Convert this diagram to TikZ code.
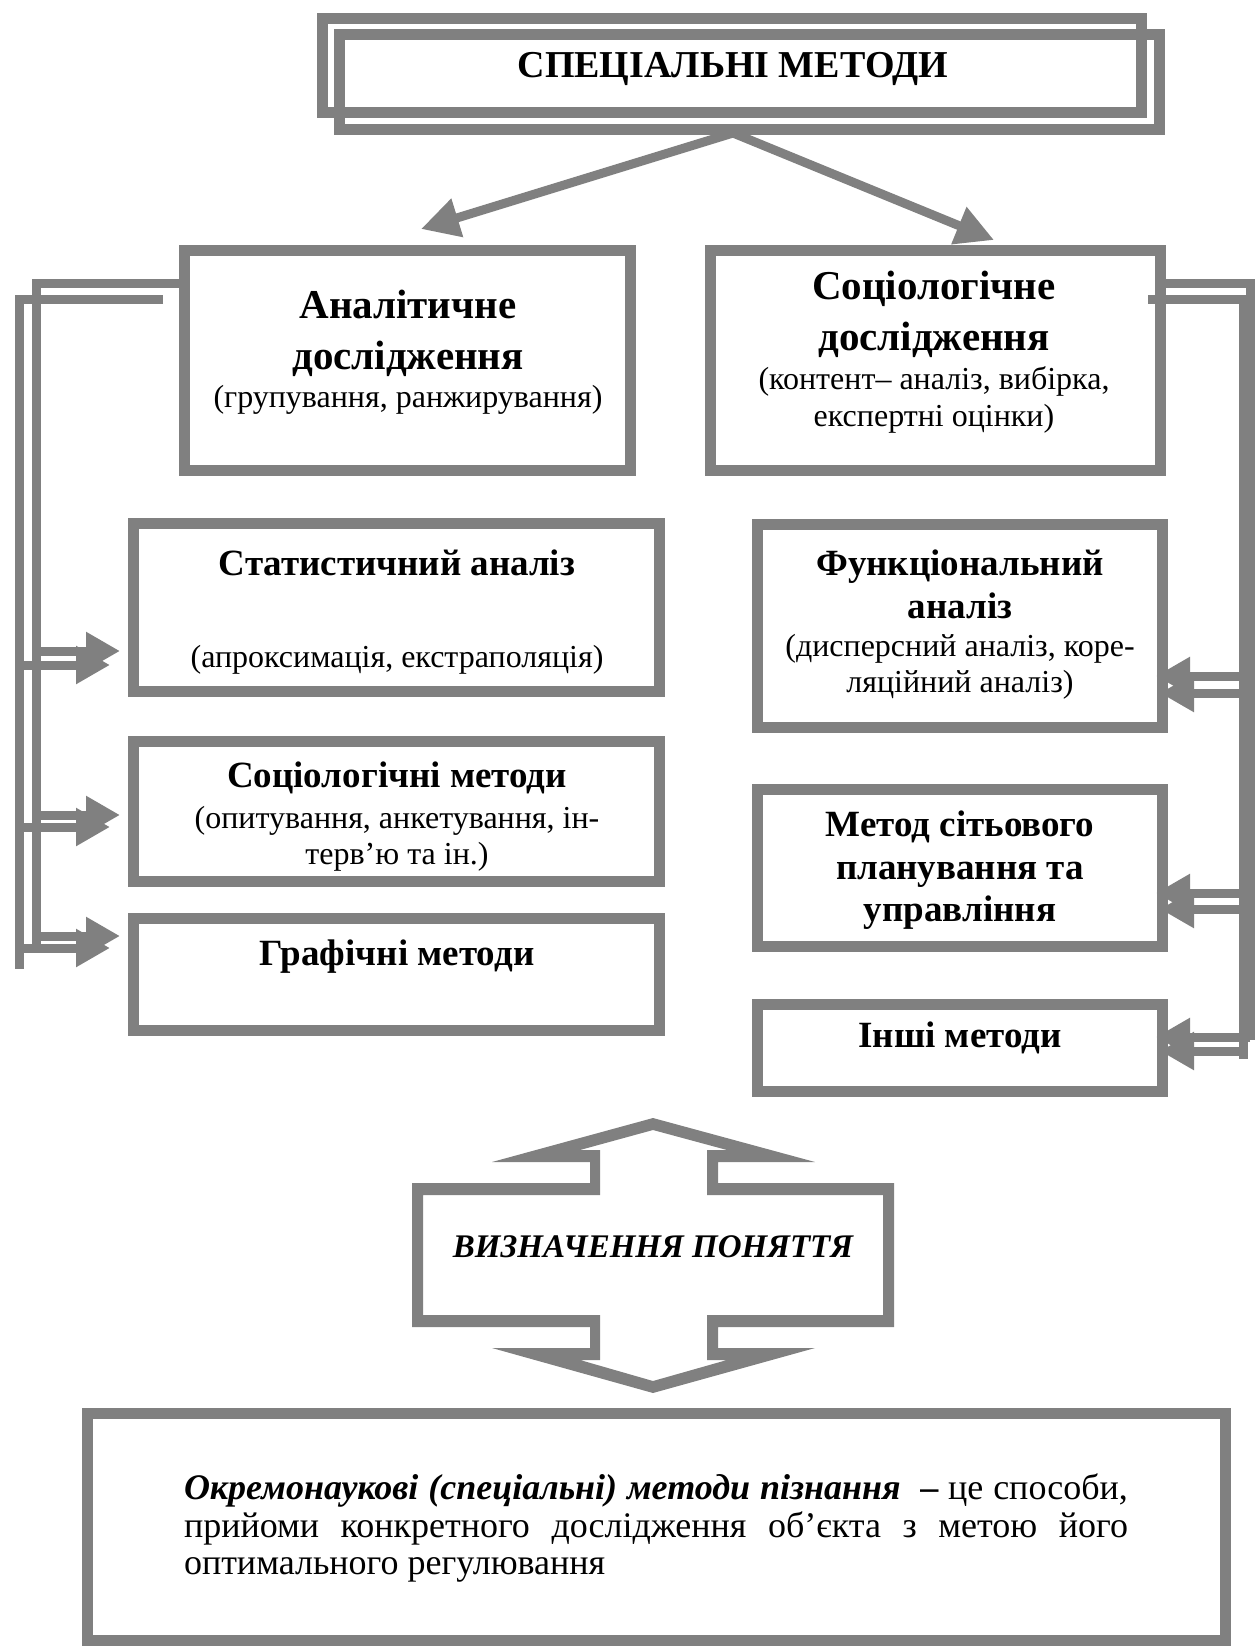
\documentclass[tikz,border=0pt]{standalone}
\usepackage{fontspec}
\setmainfont{Liberation Serif}
\usetikzlibrary{arrows.meta,calc}

\begin{document}
\begin{tikzpicture}[x=1pt,y=-1pt,
  frame/.style={draw=gray, line width=11pt, inner sep=0pt, rectangle},
  link/.style={draw=gray, line width=9pt},
  tip/.style={-{Triangle[length=34pt,width=36pt]}},
  bigtip/.style={-{Triangle[length=38pt,width=38pt]}},
  big/.style={inner sep=0pt, align=center, font=\fontsize{41}{51}\selectfont\bfseries},
  mid/.style={inner sep=0pt, align=center, font=\fontsize{37}{43}\selectfont\bfseries},
  txt/.style={inner sep=0pt, align=center, font=\fontsize{32}{36}\selectfont},
]
\useasboundingbox (0,0) rectangle (1255,1650);

% ---- title: two overlapping outlined frames
\node[frame, minimum width=819pt, minimum height=94pt] (back) at (732,65.5) {};
\node[frame, minimum width=820pt, minimum height=95pt] (title) at (749.5,82) {};
\node[inner sep=0pt, font=\fontsize{38}{44}\selectfont\bfseries] (titletext) at (733,69) {СПЕЦІАЛЬНІ МЕТОДИ};

% ---- second level
\node[frame, minimum width=446pt, minimum height=220pt] (anal) at (407.5,360.5) {};
\node[big] (analh) at (408,333) {Аналітичне\\дослідження};
\node[txt] (analt) at (408,400) {(групування, ранжирування)};

\node[frame, minimum width=450pt, minimum height=220pt] (soc) at (935.5,360.5) {};
\node[big] (soch) at (934,314.5) {Соціологічне\\дослідження};
\node[txt, font=\fontsize{32}{37}\selectfont] (soct) at (934,399.5) {(контент– аналіз, вибірка,\\експертні оцінки)};

% ---- left column
\node[frame, minimum width=526pt, minimum height=168pt] (stat) at (396.5,607.5) {};
\node[mid] (stath) at (397,563) {Статистичний аналіз};
\node[txt] (statt) at (397,660) {(апроксимація, екстраполяція)};

\node[frame, minimum width=526pt, minimum height=140pt] (socm) at (396.5,811.5) {};
\node[mid] (socmh) at (397,778) {Соціологічні методи};
\node[txt] (socmt) at (397,839) {(опитування, анкетування, ін-\\терв’ю та ін.)};

\node[frame, minimum width=526pt, minimum height=112pt] (graf) at (396.5,974.5) {};
\node[mid] (grafh) at (397,957) {Графічні методи};

% ---- right column
\node[frame, minimum width=405pt, minimum height=203pt] (func) at (960,626) {};
\node[mid] (funch) at (960,584.5) {Функціональний\\аналіз};
\node[txt] (funct) at (960,667) {(дисперсний аналіз, коре-\\ляційний аналіз)};

\node[frame, minimum width=405pt, minimum height=157pt] (net) at (960,868) {};
\node[mid, font=\fontsize{37}{42.5}\selectfont\bfseries] (neth) at (960,870.5) {Метод сітьового\\планування та\\управління};

\node[frame, minimum width=405pt, minimum height=87pt] (other) at (960,1048) {};
\node[mid] (otherh) at (960,1038) {Інші методи};

% ---- fork from the title
\coordinate (fork) at (733,133);
\coordinate (ltip) at (421,229);
\coordinate (rtip) at (994,240);
\draw[link, bigtip] (fork) -- (ltip);
\draw[link, bigtip] (fork) -- (rtip);

% ---- left bus (two offset strokes)
\coordinate (lB) at (163,299);
\draw[link] (anal.west |- 0,283) -- (36,283) -- (36,950);
\draw[link] (lB) -- (19,299) -- (19,969);
\draw[link, tip, shorten >=8pt] (36,651) -- (stat.west |- 0,651);
\draw[link, tip, shorten >=18pt] (19,665) -- (stat.west |- 0,665);
\draw[link, tip, shorten >=8pt] (36,815) -- (socm.west |- 0,815);
\draw[link, tip, shorten >=18pt] (19,827) -- (socm.west |- 0,827);
\draw[link, tip, shorten >=8pt] (36,936) -- (graf.west |- 0,936);
\draw[link, tip, shorten >=18pt] (19,948) -- (graf.west |- 0,948);

% ---- right bus (two offset strokes)
\coordinate (rB) at (1148,299);
\draw[link] (soc.east |- 0,283) -- (1250,283) -- (1250,1040);
\draw[link] (rB) -- (1243,299) -- (1243,1059);
\draw[link, tip] (1250,676) -- ($(func.east |- 0,676)+(-12,0)$);
\draw[link, tip] (1243,693) -- ($(func.east |- 0,693)+(-8,0)$);
\draw[link, tip] (1250,893) -- ($(net.east |- 0,893)+(-12,0)$);
\draw[link, tip] (1243,909) -- ($(net.east |- 0,909)+(-8,0)$);
\draw[link, tip] (1250,1037) -- ($(other.east |- 0,1037)+(-12,0)$);
\draw[link, tip] (1243,1051) -- ($(other.east |- 0,1051)+(-8,0)$);

% ---- two-way block arrow
\fill[gray, even odd rule]
  (412,1183) -- (590,1183) -- (590,1162) -- (492,1162) -- (653,1118) -- (815,1162)
  -- (718,1162) -- (718,1183) -- (894,1183) -- (894,1327) -- (718,1327) -- (718,1348)
  -- (815,1348) -- (653,1393) -- (492,1348) -- (590,1348) -- (590,1327) -- (412,1327) -- cycle
  (423,1195) -- (600,1195) -- (600,1150) -- (580,1150) -- (653,1130) -- (727,1150)
  -- (707,1150) -- (707,1195) -- (883,1195) -- (883,1315) -- (707,1315) -- (707,1360)
  -- (727,1360) -- (653,1381) -- (580,1360) -- (600,1360) -- (600,1315) -- (423,1315) -- cycle;
\node[inner sep=0pt, font=\fontsize{33}{38}\selectfont\bfseries\itshape] (concept) at (653,1247) {ВИЗНАЧЕННЯ ПОНЯТТЯ};

% ---- definition
\node[frame, minimum width=1138pt, minimum height=227pt] (defbox) at (656.5,1527) {};
\node[inner sep=0pt] (deftext) at (656,1528) {\parbox{944pt}{\fontsize{36}{37.5}\selectfont
  \tolerance=10000\hbadness=10000
  \textbf{\textit{Окремонаукові (спеціальні) методи пізнання}}\ \ \textbf{–} це способи,\linebreak
  прийоми конкретного дослідження об’єкта з метою його\linebreak
  оптимального регулювання}};
\end{tikzpicture}
\end{document}
